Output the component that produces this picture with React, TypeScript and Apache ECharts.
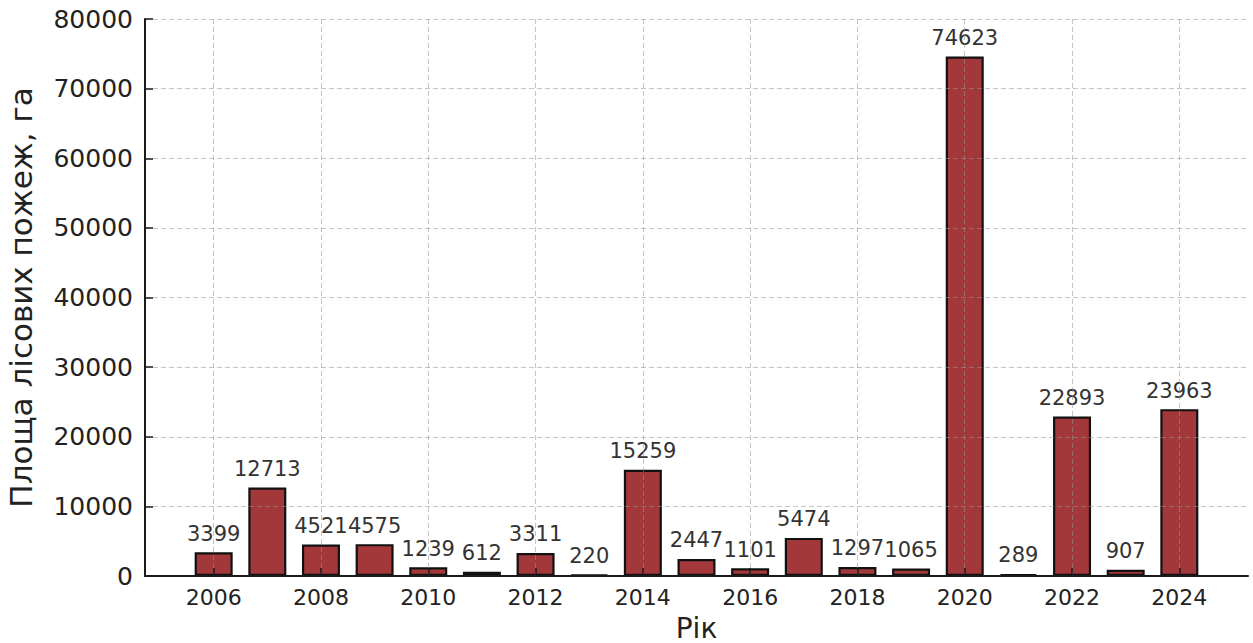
import React, { useEffect, useRef } from "react";
import * as echarts from "echarts";

// Forest fire area per year, hectares
const years = [
  2006, 2007, 2008, 2009, 2010, 2011, 2012, 2013, 2014, 2015,
  2016, 2017, 2018, 2019, 2020, 2021, 2022, 2023, 2024,
];
const areas = [
  3399, 12713, 4521, 4575, 1239, 612, 3311, 220, 15259, 2447,
  1101, 5474, 1297, 1065, 74623, 289, 22893, 907, 23963,
];
const yearTicks = [2006, 2008, 2010, 2012, 2014, 2016, 2018, 2020, 2022, 2024];

const FONT = "'DejaVu Sans', sans-serif";

export default function App() {
  const ref = useRef<HTMLDivElement>(null);

  useEffect(() => {
    if (!ref.current) return;
    const chart = echarts.init(ref.current, undefined, { renderer: "svg" });
    const gridLine = {
      show: true,
      lineStyle: { color: "rgba(150,150,150,0.55)", width: 1, type: [5, 3] as number[] },
    };
    chart.setOption({
      animation: false,
      backgroundColor: "#ffffff",
      grid: {
        left: 145,
        right: 5,
        top: 19,
        bottom: 67,
        containLabel: false,
        outerBoundsMode: "none",
      },
      xAxis: {
        type: "value",
        min: 2004.72,
        max: 2025.28,
        z: 3,
        name: "Рік",
        nameLocation: "middle",
        nameGap: 37,
        nameTextStyle: { fontFamily: FONT, fontSize: 28, color: "#222", verticalAlign: "top", lineHeight: 30 },
        axisLine: { show: true, onZero: false, lineStyle: { color: "#1a1a1a", width: 2 } },
        axisTick: { show: true, inside: true, length: 8, customValues: yearTicks, lineStyle: { color: "#1a1a1a", width: 1.5 } },
        axisLabel: {
          customValues: yearTicks,
          margin: 10,
          fontFamily: FONT,
          fontSize: 22,
          color: "#222",
          formatter: (v: number) => String(v),
        },
        splitLine: gridLine,
      },
      yAxis: {
        type: "value",
        min: 0,
        max: 80000,
        interval: 10000,
        z: 3,
        name: "Площа лісових пожеж, га",
        nameLocation: "middle",
        nameGap: 109,
        nameTextStyle: { fontFamily: FONT, fontSize: 31, color: "#222" },
        axisLine: { show: true, lineStyle: { color: "#1a1a1a", width: 2 } },
        axisTick: { show: true, inside: true, length: 8, lineStyle: { color: "#1a1a1a", width: 1.5 } },
        axisLabel: {
          margin: 12,
          fontFamily: FONT,
          fontSize: 25,
          color: "#222",
          formatter: (v: number) => String(v),
        },
        splitLine: gridLine,
      },
      series: [
        {
          type: "bar",
          data: years.map((y, i) => [y, areas[i]]),
          barWidth: 38,
          itemStyle: { color: "#a3383a", borderColor: "#111", borderWidth: 2.2 },
          label: {
            show: true,
            position: "top",
            distance: 8,
            fontFamily: FONT,
            fontSize: 21,
            color: "#333",
            formatter: (p: any) => String(p.value[1]),
          },
        },
      ],
    });
    return () => chart.dispose();
  }, []);

  return (
    <div
      ref={ref}
      style={{ position: "fixed", left: 0, top: 0, width: 1253, height: 643, background: "#fff" }}
    />
  );
}
